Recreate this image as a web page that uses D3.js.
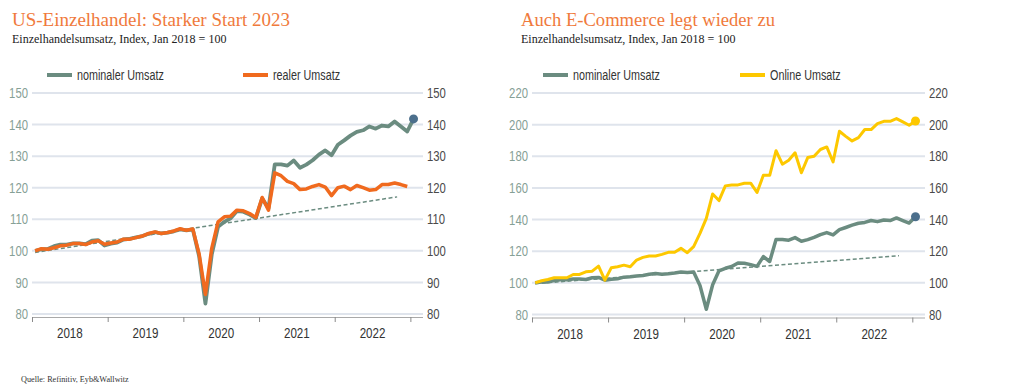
<!DOCTYPE html>
<html>
<head>
<meta charset="utf-8">
<script src="https://cdn.jsdelivr.net/npm/d3@7"></script>
<style>
  body { margin: 0; background: #fff; }
  svg { display: block; }
  .title { font-family: "Liberation Serif", serif; font-size: 19.5px; fill: #f07a3c; }
  .subtitle { font-family: "Liberation Serif", serif; font-size: 12px; fill: #222; }
  .narrow { font-family: "Liberation Sans Narrow", "Arial Narrow", "Liberation Sans", sans-serif; }
  .source { font-family: "Liberation Serif", serif; font-size: 8.2px; fill: #333; }
</style>
</head>
<body>
<svg id="chart" width="1029" height="389"></svg>
<script>
// Monats-Daten ab Jan 2018 (Index Jan 2018 = 100)
const years = ['2018', '2019', '2020', '2021', '2022'];

const nominal = [
  100, 100.5, 100.6, 101.5, 102, 102, 102.4, 102.4, 102.1, 103.2, 103.4, 101.7,
  102.3, 102.6, 103.6, 103.8, 104.3, 104.7, 105.4, 105.9, 105.5, 105.8, 106.2, 106.8,
  106.5, 106.8, 98.3, 83.3, 98.8, 107.6, 109.2, 110.3, 112.6, 112.4, 111.5, 110.4,
  116.6, 113.5, 127.4, 127.4, 127, 128.6, 126.3, 127.3, 128.7, 130.5, 131.8, 130.3,
  133.6, 135, 136.5, 137.7, 138.2, 139.4, 138.7, 139.7, 139.4, 141, 139.4, 137.8,
  141.8
];

const real = [
  100, 100.7, 100.5, 101, 101.6, 101.8, 102.3, 102.3, 102, 102.8, 103.2, 102.1,
  102.5, 102.8, 103.7, 103.7, 104.2, 104.7, 105.5, 106, 105.5, 105.8, 106.3, 107,
  106.5, 106.9, 99, 86.2, 100.8, 109.2, 110.8, 111, 112.9, 112.7, 111.8, 110.6,
  116.9, 112.9, 124.7, 123.8, 122, 121.3, 119.4, 119.6, 120.4, 121, 120.2, 117.5,
  120, 120.5, 119.4, 120.7, 120, 119.2, 119.4, 121, 121, 121.5, 121, 120.4
];

const online = [
  100, 101.3, 102.1, 103.2, 103.2, 103.2, 105.3, 105.3, 107, 107.4, 110.6, 101.7,
  109.5, 110.2, 111.2, 110.2, 114.4, 116.1, 117, 117, 118, 119.3, 119.3, 121.8,
  119.1, 122.9, 131.3, 140.8, 156.2, 152, 161.3, 161.9, 161.9, 163, 163, 157.1,
  168, 168, 183.5, 175, 177.5, 182.2, 169.6, 179.2, 180, 184.3, 185.9, 176.4,
  195.8, 192.6, 189.7, 191.8, 196.9, 196.9, 200.6, 202.1, 202.1, 203.8, 201.7, 199.6,
  202.3
];

// Trendlinie (Monatsindex, Wert)
const trendIdx = [0, 57.4];
const trendVal = [99.5, 117.1];

const leftTicks = [80, 90, 100, 110, 120, 130, 140, 150];
const rightTicks = [80, 100, 120, 140, 160, 180, 200, 220];

const colors = {
  nominal: '#6b8c80',
  real: '#f06a1e',
  online: '#fdc800',
  dot: '#4c6f8c',
  grid: '#dfe4ec',
  trend: '#6b8c80'
};

const svg = d3.select('#chart');

// schmale Schrift nachbilden (kein Arial Narrow vorhanden)
const squeeze = (sel, f) => {
  sel.each(function() {
    const len = this.getComputedTextLength();
    d3.select(this).attr('textLength', len * f).attr('lengthAdjust', 'spacingAndGlyphs');
  });
};

const drawPanel = options => {
  const g = svg.append('g');

  const xScale = d3.scaleLinear()
                   .domain([-0.5, 61.5])
                   .range([options.x0, options.x1]);

  const yScale = d3.scaleLinear()
                   .domain(options.yDomain)
                   .range([options.yBottom, options.yTop]);

  // Titel
  g.append('text').attr('class', 'title')
   .attr('x', options.titleX).attr('y', 26).text(options.title)
   .attr('textLength', options.titleW).attr('lengthAdjust', 'spacingAndGlyphs');
  g.append('text').attr('class', 'subtitle')
   .attr('x', options.titleX).attr('y', 43).text('Einzelhandelsumsatz, Index, Jan 2018 = 100');

  // Gitterlinien
  g.append('g').selectAll('line')
   .data(options.ticks)
   .join('line')
   .attr('x1', options.x0).attr('x2', options.x1)
   .attr('y1', d => yScale(d)).attr('y2', d => yScale(d))
   .attr('stroke', colors.grid).attr('stroke-width', 2);

  // Y-Achsen links und rechts
  const yLeft = d3.axisLeft(yScale).tickValues(options.ticks).tickSize(0).tickPadding(0);
  const yRight = d3.axisRight(yScale).tickValues(options.ticks).tickSize(0).tickPadding(0);

  g.append('g')
   .attr('transform', `translate(${options.x0 - 4},0)`)
   .call(yLeft)
   .call(s => s.select('.domain').remove())
   .selectAll('text')
   .attr('class', 'narrow')
   .style('font-size', '14.5px')
   .attr('fill', '#86a096')
   .call(squeeze, 0.78);

  g.append('g')
   .attr('transform', `translate(${options.x1 + 4},0)`)
   .call(yRight)
   .call(s => s.select('.domain').remove())
   .selectAll('text')
   .attr('class', 'narrow')
   .style('font-size', '14.5px')
   .attr('fill', '#4a4a4a')
   .call(squeeze, 0.78);

  // X-Achse
  const yearBounds = d3.range(years.length + 1).map(k => k * 12 - 0.5);
  const xAxis = d3.axisBottom(xScale).tickValues(yearBounds).tickSize(5).tickFormat('');
  g.append('g')
   .attr('transform', `translate(0,${options.yBottom + 3})`)
   .call(xAxis)
   .call(s => s.select('.domain').attr('d', `M${options.x0},0.5H${options.x1}`).attr('stroke', '#a9a9a9'))
   .call(s => s.selectAll('.tick line').attr('stroke', '#8a8a8a'));

  g.append('g').selectAll('text')
   .data(years)
   .join('text')
   .attr('class', 'narrow')
   .attr('x', (d, k) => xScale(k * 12 + 5.5))
   .attr('y', options.yBottom + 24)
   .attr('text-anchor', 'middle')
   .style('font-size', '14.5px')
   .attr('fill', '#333')
   .text(d => d)
   .call(squeeze, 0.8);

  // Trendlinie
  const line = d3.line()
                 .x((d, i) => xScale(i))
                 .y(d => yScale(d));

  g.append('line')
   .attr('x1', xScale(trendIdx[0])).attr('y1', yScale(trendVal[0]))
   .attr('x2', xScale(trendIdx[1])).attr('y2', yScale(trendVal[1]))
   .attr('stroke', colors.trend).attr('stroke-width', 1.5)
   .attr('stroke-dasharray', '4,2.5');

  options.series.forEach(s => {
    g.append('path')
     .datum(s.values)
     .attr('fill', 'none')
     .attr('stroke', s.color)
     .attr('stroke-width', s.width)
     .attr('stroke-linejoin', 'round')
     .attr('d', line);
    if (s.dot) {
      const last = s.values.length - 1;
      g.append('circle')
       .attr('cx', xScale(last)).attr('cy', yScale(s.values[last]))
       .attr('r', 4.5).attr('fill', s.dot);
    }
  });

  // Legende
  options.legend.forEach(l => {
    g.append('line')
     .attr('x1', l.x).attr('x2', l.x + 25)
     .attr('y1', 75).attr('y2', 75)
     .attr('stroke', l.color).attr('stroke-width', 4);
    g.append('text')
     .attr('class', 'narrow')
     .attr('x', l.x + 30).attr('y', 80)
     .style('font-size', '14px')
     .attr('fill', '#333')
     .text(l.label)
     .call(squeeze, 0.77);
  });
};

drawPanel({
  title: 'US-Einzelhandel: Starker Start 2023',
  titleX: 12, titleW: 278,
  x0: 32, x1: 423,
  yDomain: [80, 150], yBottom: 314, yTop: 93,
  ticks: leftTicks,
  series: [
    { values: nominal, color: colors.nominal, width: 3.8, dot: colors.dot },
    { values: real, color: colors.real, width: 3.5 }
  ],
  legend: [
    { x: 47, label: 'nominaler Umsatz', color: colors.nominal },
    { x: 243, label: 'realer Umsatz', color: colors.real }
  ]
});

drawPanel({
  title: 'Auch E-Commerce legt wieder zu',
  titleX: 521, titleW: 254,
  x0: 532, x1: 925,
  yDomain: [80, 220], yBottom: 314.5, yTop: 93,
  ticks: rightTicks,
  series: [
    { values: nominal, color: colors.nominal, width: 3.5, dot: colors.dot },
    { values: online, color: colors.online, width: 3, dot: colors.online }
  ],
  legend: [
    { x: 543, label: 'nominaler Umsatz', color: colors.nominal },
    { x: 740, label: 'Online Umsatz', color: colors.online }
  ]
});

svg.append('text').attr('class', 'source')
   .attr('x', 21).attr('y', 382)
   .text('Quelle: Refinitiv, Eyb&Wallwitz');
</script>
</body>
</html>
